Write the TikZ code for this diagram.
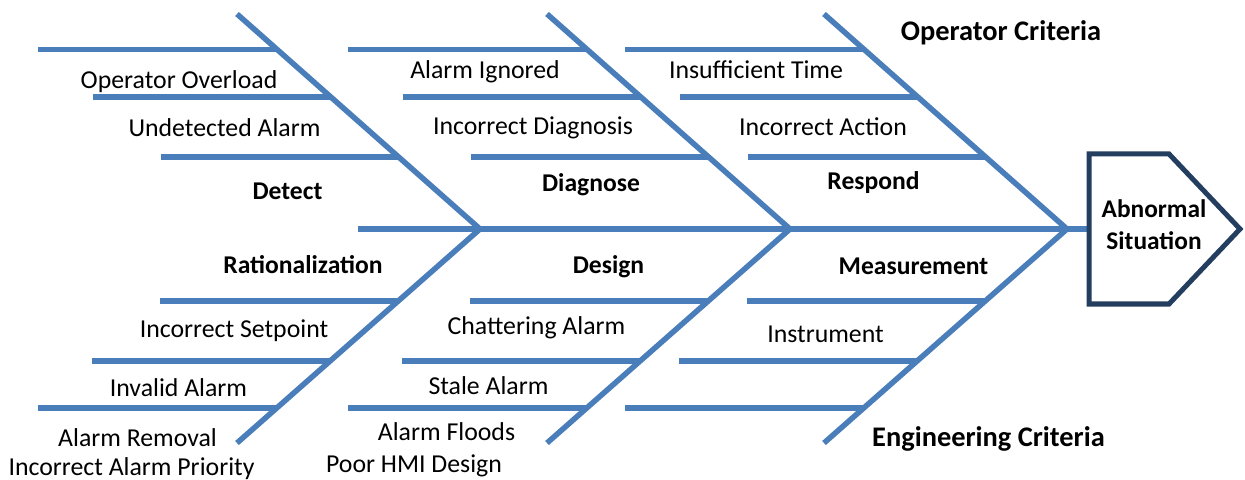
\documentclass[tikz,border=0pt]{standalone}
\usepackage{fontspec}
\setmainfont{Carlito}
\definecolor{bonecol}{RGB}{74,126,187}
\definecolor{headcol}{RGB}{36,62,96}

\begin{document}
\begin{tikzpicture}[x=5pt, y=-5pt,
  bone/.style={draw=bonecol, line width=2.75pt},
  head/.style={draw=headcol, line width=2.5pt},
  cause/.style={anchor=base, inner sep=0pt, font=\fontsize{12.9}{15}\selectfont},
  group/.style={anchor=base, inner sep=0pt, font=\fontsize{12.8}{15}\selectfont\bfseries},
  crit/.style={anchor=base, inner sep=0pt, font=\fontsize{14.2}{17}\selectfont\bfseries}]
  \useasboundingbox (0,0) rectangle (124.5,48);
  \coordinate (S) at (35.8,22.9);   \coordinate (E) at (108.9,22.9);
  \coordinate (T1) at (23.7,1.4);   \coordinate (J1) at (48.0,22.9);  \coordinate (B1) at (23.7,44.3);
  \coordinate (T2) at (54.7,1.4);   \coordinate (J2) at (79.0,22.9);  \coordinate (B2) at (54.7,44.3);
  \coordinate (T3) at (82.4,1.4);   \coordinate (J3) at (106.7,22.9); \coordinate (B3) at (82.4,44.3);
  % spine and the three bones
  \draw[bone] (S) -- (E);
  \draw[bone] (T1) -- coordinate[pos=.165] (U11) coordinate[pos=.386] (U12) coordinate[pos=.665] (U13) (J1)
              -- coordinate[pos=.336] (L11) coordinate[pos=.617] (L12) coordinate[pos=.836] (L13) (B1);
  \draw[bone] (T2) -- coordinate[pos=.165] (U21) coordinate[pos=.386] (U22) coordinate[pos=.665] (U23) (J2)
              -- coordinate[pos=.336] (L21) coordinate[pos=.617] (L22) coordinate[pos=.836] (L23) (B2);
  \draw[bone] (T3) -- coordinate[pos=.165] (U31) coordinate[pos=.386] (U32) coordinate[pos=.665] (U33) (J3)
              -- coordinate[pos=.336] (L31) coordinate[pos=.617] (L32) coordinate[pos=.836] (L33) (B3);
  % branches
  \draw[bone] (U11) -- ++(-23.9,0) (U12) -- ++(-23.8,0) (U13) -- ++(-23.8,0);
  \draw[bone] (U21) -- ++(-23.9,0) (U22) -- ++(-23.8,0) (U23) -- ++(-23.8,0);
  \draw[bone] (U31) -- ++(-23.9,0) (U32) -- ++(-23.8,0) (U33) -- ++(-23.8,0);
  \draw[bone] (L11) -- ++(-23.8,0) (L12) -- ++(-23.8,0) (L13) -- ++(-23.9,0);
  \draw[bone] (L21) -- ++(-23.8,0) (L22) -- ++(-23.8,0) (L23) -- ++(-23.9,0);
  \draw[bone] (L31) -- ++(-23.8,0) (L32) -- ++(-23.8,0) (L33) -- ++(-23.9,0);
  % head
  \draw[head] (108.9,15.4) -- (116.9,15.4) -- (124.0,22.9) -- (116.9,30.4) -- (108.9,30.4) -- cycle;
  \node[group, anchor=center, align=center, font=\fontsize{12.7}{15.8}\selectfont\bfseries] (H) at (115.4,22.44) {Abnormal\\Situation};
  % upper labels
  \node[cause] (overload) at (17.9,8.83) {Operator Overload};
  \node[cause] (undetected) at (22.45,13.67) {Undetected Alarm};
  \node[group] (detect) at (28.75,19.93) {Detect};
  \node[cause] (ignored) at (48.5,7.9) {Alarm Ignored};
  \node[cause] (diagnosis) at (53.3,13.5) {Incorrect Diagnosis};
  \node[group] (diagnose) at (59.1,19.17) {Diagnose};
  \node[cause] (time) at (75.6,7.9) {Insufficient Time};
  \node[cause] (action) at (82.3,13.6) {Incorrect Action};
  \node[group] (respond) at (87.35,19.0) {Respond};
  \node[crit] (operator) at (100.1,4.07) {Operator Criteria};
  % lower labels
  \node[group] (rational) at (30.3,27.4) {Rationalization};
  \node[cause] (setpoint) at (23.4,33.77) {Incorrect Setpoint};
  \node[cause] (invalid) at (17.85,39.6) {Invalid Alarm};
  \node[cause] (removal) at (13.75,44.67) {Alarm Removal};
  \node[cause] (priority) at (13.15,47.5) {Incorrect Alarm Priority};
  \node[group] (design) at (60.85,27.33) {Design};
  \node[cause] (chatter) at (53.65,33.5) {Chattering Alarm};
  \node[cause] (stale) at (48.85,39.4) {Stale Alarm};
  \node[cause] (floods) at (44.65,44.0) {Alarm Floods};
  \node[cause] (hmi) at (41.4,47.23) {Poor HMI Design};
  \node[group] (measure) at (91.35,27.43) {Measurement};
  \node[cause] (instrument) at (82.55,34.27) {Instrument};
  \node[crit] (engineering) at (98.85,44.6) {Engineering Criteria};
\end{tikzpicture}
\end{document}
